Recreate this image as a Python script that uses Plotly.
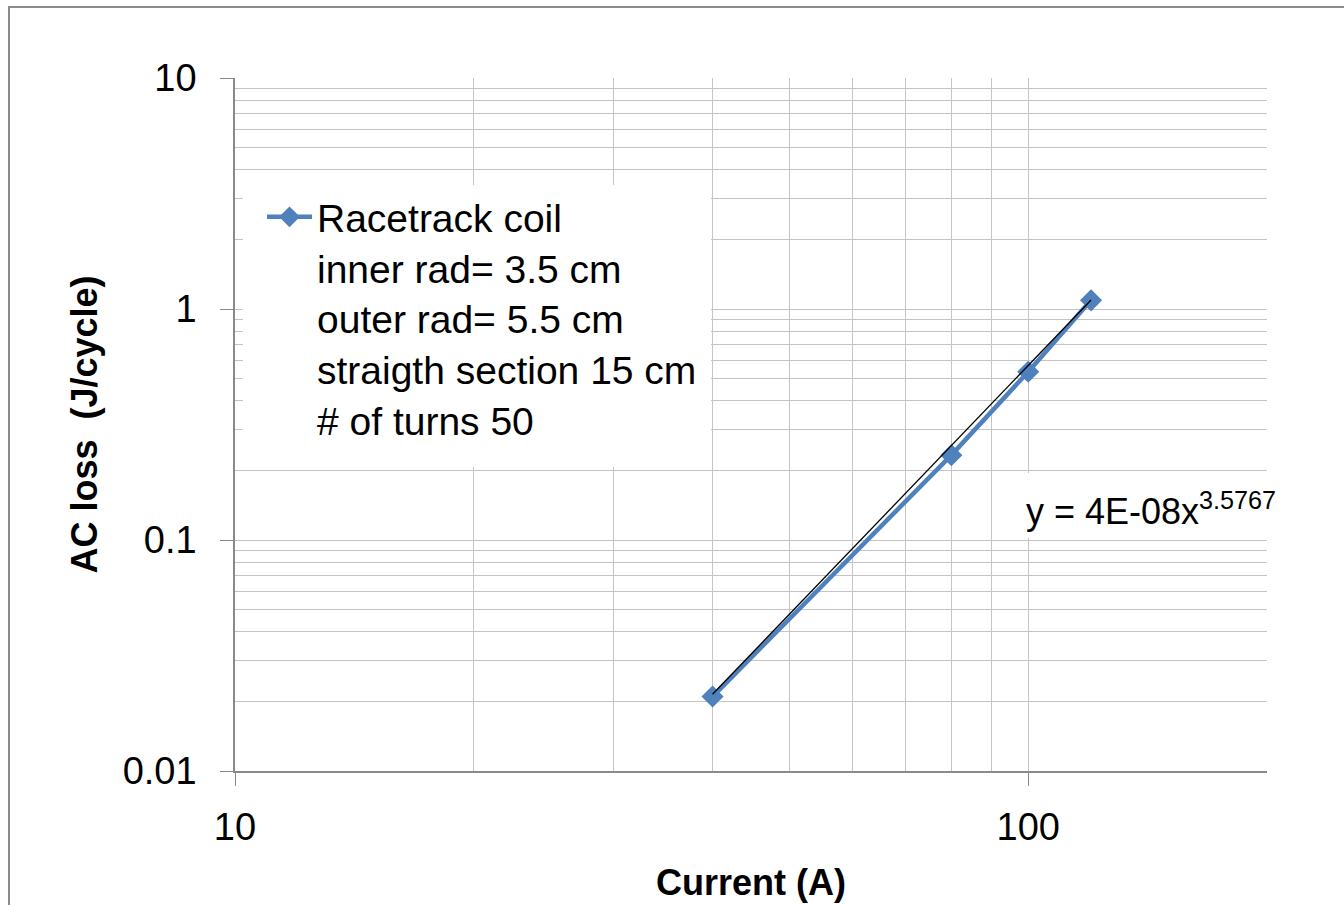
import math
import plotly.graph_objects as go

# Measured AC loss of the racetrack coil
current_a = [40, 80, 100, 120]
ac_loss_j = [0.021, 0.233, 0.535, 1.09]

# Power-law trendline y = A * x^B
fit_a = 4e-08
fit_b = 3.5767

x_major = [10, 100]
x_major_text = ["10", "100"]
y_major = [0.01, 0.1, 1, 10]
y_major_text = ["0.01", "0.1", "1", "10"]

legend_name = ("Racetrack coil<br>inner rad= 3.5 cm<br>outer rad= 5.5 cm"
               "<br>straigth section 15 cm<br># of turns 50")

FONT = "Liberation Sans, Arial, sans-serif"
BLUE = "#4f81bd"
GRID = "#c4c4c4"
AXIS = "#8a8a8a"

x_minor = [k * 10 for k in range(2, 10)] + [200]
y_minor = [k * 10 ** e for e in (-2, -1, 0) for k in range(2, 10)]

trend_x = [current_a[0] + i * (current_a[-1] - current_a[0]) / 60 for i in range(61)]
trend_y = [fit_a * v ** fit_b for v in trend_x]

fig = go.Figure()
fig.add_trace(go.Scatter(
    x=current_a, y=ac_loss_j, mode="lines+markers", name=legend_name,
    line=dict(color=BLUE, width=4.5),
    marker=dict(symbol="diamond", size=17, color=BLUE),
))
fig.add_trace(go.Scatter(
    x=trend_x, y=trend_y, mode="lines", showlegend=False,
    line=dict(color="black", width=1.3),
))

# plot-area geometry in pixels, used to place boxes in paper units
L, R, T, B = 235, 1267, 78, 771
W, H = R - L, B - T


def px(xp):
    return (xp - L) / W


def py(yp):
    return (B - yp) / H


shapes = [
    # white panel behind the legend text
    dict(type="rect", xref="paper", yref="paper", layer="above",
         x0=px(243), x1=px(711), y0=py(467), y1=py(185),
         fillcolor="white", line=dict(width=0)),
    # white panel behind the trendline equation
    dict(type="rect", xref="paper", yref="paper", layer="above",
         x0=px(1020), x1=px(1271), y0=py(538), y1=py(473),
         fillcolor="white", line=dict(width=0)),
    # chart-area frame
    dict(type="rect", xref="paper", yref="paper", layer="above",
         x0=px(9), x1=px(1400), y0=py(960), y1=py(7),
         fillcolor="rgba(0,0,0,0)", line=dict(color="#8c8c8c", width=2)),
]

fig.update_layout(
    width=1344, height=905,
    margin=dict(l=L, r=1344 - R, t=T, b=905 - B),
    paper_bgcolor="white", plot_bgcolor="white",
    font=dict(family=FONT, size=38, color="black"),
    showlegend=True,
    legend=dict(
        x=px(262), y=py(185), xanchor="left", yanchor="top",
        bgcolor="rgba(0,0,0,0)", valign="top", itemwidth=45,
        font=dict(family=FONT, size=39, color="black"),
        itemsizing="trace",
    ),
    shapes=shapes,
    annotations=[dict(
        xref="paper", yref="paper", x=px(1024), y=py(509),
        xanchor="left", yanchor="middle", showarrow=False,
        text="y = 4E-08x<sup>3.5767</sup>",
        font=dict(family=FONT, size=36, color="black"),
    )],
)

fig.update_xaxes(
    type="log", range=[1, math.log10(200)], automargin=False,
    tickmode="array", tickvals=x_major, ticktext=x_major_text,
    ticks="outside", ticklen=13, tickcolor=AXIS, tickwidth=1.3,
    showline=True, linecolor=AXIS, linewidth=1.5,
    showgrid=True, gridcolor=GRID, gridwidth=1.3, zeroline=False,
    minor=dict(tickmode="array", tickvals=x_minor, showgrid=True,
               gridcolor=GRID, gridwidth=1.3, ticks=""),
    tickfont=dict(family=FONT, size=38),
    ticklabelstandoff=9,
    title=dict(text="<b>Current (A)</b>", font=dict(family=FONT, size=36),
               standoff=22),
)
fig.update_yaxes(
    type="log", range=[-2, 1], automargin=False,
    tickmode="array", tickvals=y_major, ticktext=y_major_text,
    ticks="outside", ticklen=13, tickcolor=AXIS, tickwidth=1.3,
    showline=True, linecolor=AXIS, linewidth=1.5,
    showgrid=True, gridcolor=GRID, gridwidth=1.3, zeroline=False,
    minor=dict(tickmode="array", tickvals=y_minor, showgrid=True,
               gridcolor=GRID, gridwidth=1.3, ticks=""),
    tickfont=dict(family=FONT, size=38),
    ticklabelstandoff=16,
    title=dict(text="<b>AC loss \u00a0(J/cycle)</b>",
               font=dict(family=FONT, size=36), standoff=14),
)

fig.write_html("out.html")
